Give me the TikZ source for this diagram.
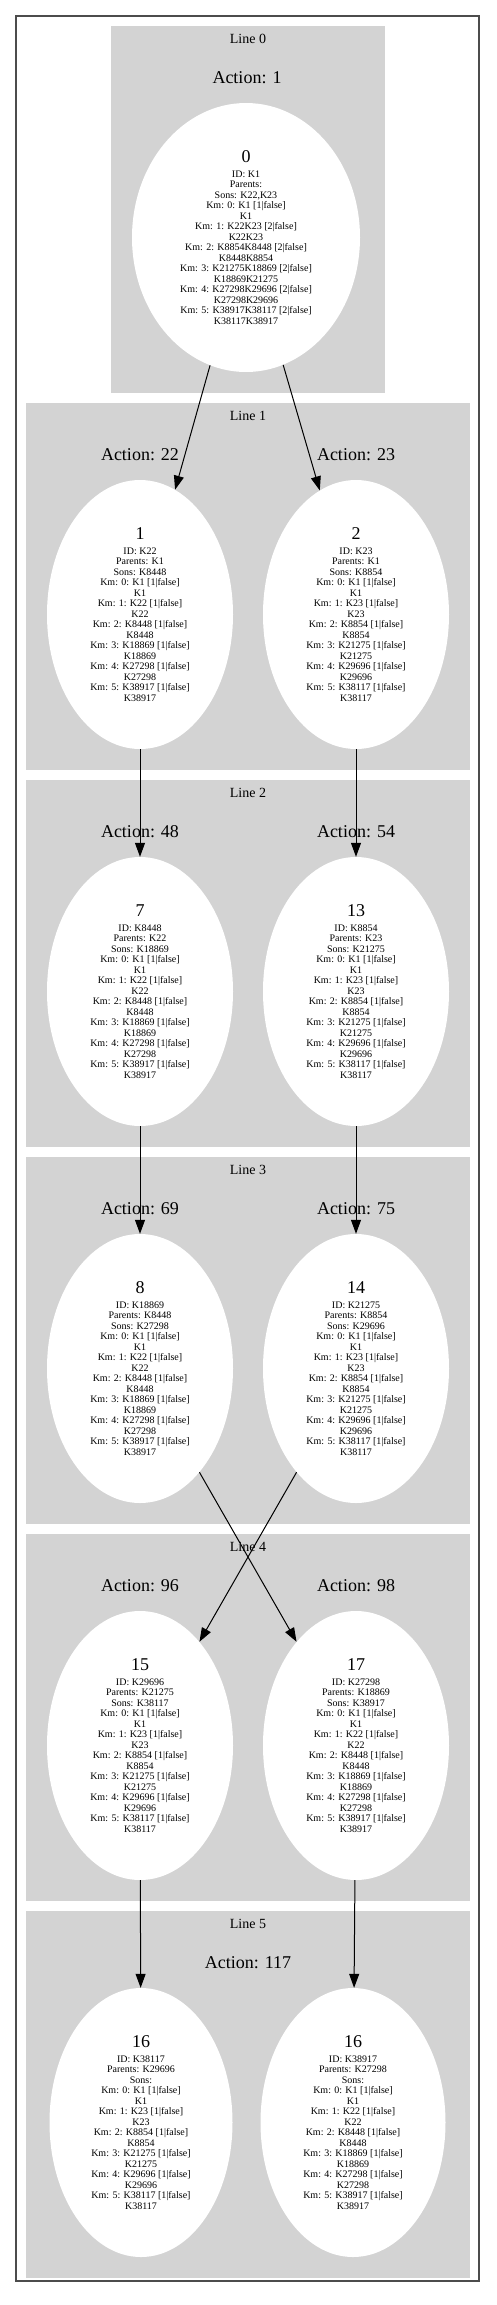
\documentclass[tikz,border=0pt]{standalone}
\usepackage{fontspec}
\setmainfont{Liberation Serif}
\usetikzlibrary{arrows.meta, shapes.geometric}
\definecolor{clustergray}{HTML}{D3D3D3}
\newcommand{\nodenum}[1]{{\fontsize{18}{20}\selectfont #1}\\[4pt]}

\begin{document}
\begin{tikzpicture}[
    x=1pt, y=-1pt,
    cluster/.style={fill=clustergray},
    kmnode/.style={ellipse, fill=white, minimum width=186pt, minimum height=269pt,
                   inner sep=0pt, align=center, font=\fontsize{10}{10.5}\selectfont},
    lbl/.style={font=\fontsize{14}{16}\selectfont},
    act/.style={font=\fontsize{18}{20}\selectfont},
    arrow/.style={-{Triangle[length=14pt, width=10pt]}, line width=1pt, black},
]
\useasboundingbox (0,0) rectangle (496,2305);
\draw[line width=1.5pt, black!70] (16,16) rectangle (479,2281);

% ===== Line 0 =====
\fill[cluster] (111,26) rectangle (385,393);
\node[lbl] (line0) at (248,39) {Line 0};
\node[act] (act1) at (247,78) {Action: 1};
\node[kmnode, minimum width=228pt] (n0) at (246,237.5) {\nodenum{0}ID: K1\\Parents:\\Sons: K22,K23\\Km: 0: K1 [1|false]\\K1\\Km: 1: K22K23 [2|false]\\K22K23\\Km: 2: K8854K8448 [2|false]\\K8448K8854\\Km: 3: K21275K18869 [2|false]\\K18869K21275\\Km: 4: K27298K29696 [2|false]\\K27298K29696\\Km: 5: K38917K38117 [2|false]\\K38117K38917};

% ===== Line 1 =====
\fill[cluster] (26,403) rectangle (470,770);
\node[lbl] (line1) at (248,416) {Line 1};
\node[act] (act22) at (140,455) {Action: 22};
\node[act] (act23) at (356,455) {Action: 23};
\node[kmnode] (n1) at (140,614.5) {\nodenum{1}ID: K22\\Parents: K1\\Sons: K8448\\Km: 0: K1 [1|false]\\K1\\Km: 1: K22 [1|false]\\K22\\Km: 2: K8448 [1|false]\\K8448\\Km: 3: K18869 [1|false]\\K18869\\Km: 4: K27298 [1|false]\\K27298\\Km: 5: K38917 [1|false]\\K38917};
\node[kmnode] (n2) at (356,614.5) {\nodenum{2}ID: K23\\Parents: K1\\Sons: K8854\\Km: 0: K1 [1|false]\\K1\\Km: 1: K23 [1|false]\\K23\\Km: 2: K8854 [1|false]\\K8854\\Km: 3: K21275 [1|false]\\K21275\\Km: 4: K29696 [1|false]\\K29696\\Km: 5: K38117 [1|false]\\K38117};

% ===== Line 2 =====
\fill[cluster] (26,780) rectangle (470,1147);
\node[lbl] (line2) at (248,793) {Line 2};
\node[act] (act48) at (140,832) {Action: 48};
\node[act] (act54) at (356,832) {Action: 54};
\node[kmnode] (n7) at (140,991.5) {\nodenum{7}ID: K8448\\Parents: K22\\Sons: K18869\\Km: 0: K1 [1|false]\\K1\\Km: 1: K22 [1|false]\\K22\\Km: 2: K8448 [1|false]\\K8448\\Km: 3: K18869 [1|false]\\K18869\\Km: 4: K27298 [1|false]\\K27298\\Km: 5: K38917 [1|false]\\K38917};
\node[kmnode] (n13) at (356,991.5) {\nodenum{13}ID: K8854\\Parents: K23\\Sons: K21275\\Km: 0: K1 [1|false]\\K1\\Km: 1: K23 [1|false]\\K23\\Km: 2: K8854 [1|false]\\K8854\\Km: 3: K21275 [1|false]\\K21275\\Km: 4: K29696 [1|false]\\K29696\\Km: 5: K38117 [1|false]\\K38117};

% ===== Line 3 =====
\fill[cluster] (26,1157) rectangle (470,1524);
\node[lbl] (line3) at (248,1170) {Line 3};
\node[act] (act69) at (140,1209) {Action: 69};
\node[act] (act75) at (356,1209) {Action: 75};
\node[kmnode] (n8) at (140,1368.5) {\nodenum{8}ID: K18869\\Parents: K8448\\Sons: K27298\\Km: 0: K1 [1|false]\\K1\\Km: 1: K22 [1|false]\\K22\\Km: 2: K8448 [1|false]\\K8448\\Km: 3: K18869 [1|false]\\K18869\\Km: 4: K27298 [1|false]\\K27298\\Km: 5: K38917 [1|false]\\K38917};
\node[kmnode] (n14) at (356,1368.5) {\nodenum{14}ID: K21275\\Parents: K8854\\Sons: K29696\\Km: 0: K1 [1|false]\\K1\\Km: 1: K23 [1|false]\\K23\\Km: 2: K8854 [1|false]\\K8854\\Km: 3: K21275 [1|false]\\K21275\\Km: 4: K29696 [1|false]\\K29696\\Km: 5: K38117 [1|false]\\K38117};

% ===== Line 4 =====
\fill[cluster] (26,1534) rectangle (470,1901);
\node[lbl] (line4) at (248,1547) {Line 4};
\node[act] (act96) at (140,1586) {Action: 96};
\node[act] (act98) at (356,1586) {Action: 98};
\node[kmnode] (n15) at (140,1745.5) {\nodenum{15}ID: K29696\\Parents: K21275\\Sons: K38117\\Km: 0: K1 [1|false]\\K1\\Km: 1: K23 [1|false]\\K23\\Km: 2: K8854 [1|false]\\K8854\\Km: 3: K21275 [1|false]\\K21275\\Km: 4: K29696 [1|false]\\K29696\\Km: 5: K38117 [1|false]\\K38117};
\node[kmnode] (n17) at (356,1745.5) {\nodenum{17}ID: K27298\\Parents: K18869\\Sons: K38917\\Km: 0: K1 [1|false]\\K1\\Km: 1: K22 [1|false]\\K22\\Km: 2: K8448 [1|false]\\K8448\\Km: 3: K18869 [1|false]\\K18869\\Km: 4: K27298 [1|false]\\K27298\\Km: 5: K38917 [1|false]\\K38917};

% ===== Line 5 =====
\fill[cluster] (26,1911) rectangle (470,2278);
\node[lbl] (line5) at (248,1924) {Line 5};
\node[act] (act117) at (248,1963) {Action: 117};
\node[kmnode, minimum width=183pt] (n16a) at (141,2122.5) {\nodenum{16}ID: K38117\\Parents: K29696\\Sons:\\Km: 0: K1 [1|false]\\K1\\Km: 1: K23 [1|false]\\K23\\Km: 2: K8854 [1|false]\\K8854\\Km: 3: K21275 [1|false]\\K21275\\Km: 4: K29696 [1|false]\\K29696\\Km: 5: K38117 [1|false]\\K38117};
\node[kmnode, minimum width=185pt] (n16b) at (353,2122.5) {\nodenum{16}ID: K38917\\Parents: K27298\\Sons:\\Km: 0: K1 [1|false]\\K1\\Km: 1: K22 [1|false]\\K22\\Km: 2: K8448 [1|false]\\K8448\\Km: 3: K18869 [1|false]\\K18869\\Km: 4: K27298 [1|false]\\K27298\\Km: 5: K38917 [1|false]\\K38917};

% ===== edges =====
\draw[arrow] (n0) -- (n1);
\draw[arrow] (n0) -- (n2);
\draw[arrow] (n1) -- (n7);
\draw[arrow] (n2) -- (n13);
\draw[arrow] (n7) -- (n8);
\draw[arrow] (n13) -- (n14);
\draw[arrow] (n8) -- (n17);
\draw[arrow] (n14) -- (n15);
\draw[arrow] (n15) -- (n16a);
\draw[arrow] (n17) -- (n16b);
\end{tikzpicture}
\end{document}
